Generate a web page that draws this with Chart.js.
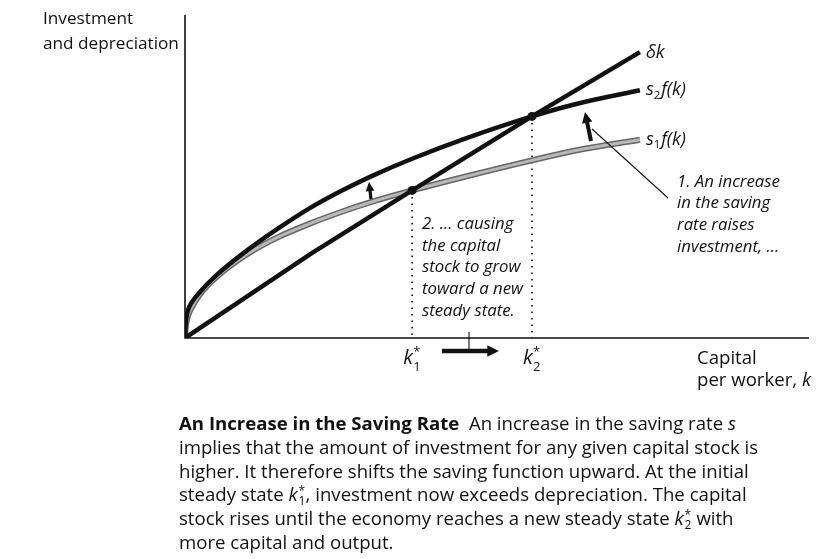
<!DOCTYPE html>
<html>
<head>
<meta charset="utf-8">
<script src="https://cdn.jsdelivr.net/npm/chart.js@4.4.1/dist/chart.umd.min.js"></script>
<style>
  body { margin: 0; background: #fff; font-family: "Open Sans", sans-serif; color: #111; }
  #wrap { position: relative; width: 829px; height: 559px; overflow: hidden; }
  canvas { position: absolute; left: 0; top: 0; }
  .cap { position: absolute; left: 179px; top: 411px; font-size: 18.6px; line-height: 23.8px; white-space: nowrap; }
  .cap b { font-weight: 700; }
  .ss { position: relative; display: inline-block; width: 8px; height: 1px; }
  .ss span { position: absolute; left: 1px; font-size: 12px; line-height: 12px; }
  .ss .sup { top: -15px; }
  .ss .sub { top: -5px; }
</style>
</head>
<body>
<div id="wrap">
  <canvas id="chart" width="829" height="559"></canvas>
  <div class="cap">
    <b>An Increase in the Saving Rate</b>&nbsp; An increase in the saving rate <i>s</i><br>
    implies that the amount of investment for any given capital stock is<br>
    higher. It therefore shifts the saving function upward. At the initial<br>
    steady state <i>k</i><span class="ss"><span class="sup">*</span><span class="sub">1</span></span>, investment now exceeds depreciation. The capital<br>
    stock rises until the economy reaches a new steady state <i>k</i><span class="ss"><span class="sup">*</span><span class="sub">2</span></span> with<br>
    more capital and output.
  </div>
</div>
<script>
// values (k = capital per worker)
const kPoints = [0, 0.01, 0.03, 0.06, 0.1, 0.25, 0.5, 1.0, 1.5, 2.0, 2.5, 3.0, 3.64, 4.5, 5.56, 6.3, 7.29];
const s1f = [0, 0.3, 0.55, 0.75, 0.92, 1.38, 1.88, 2.6, 3.13, 3.54, 3.9, 4.22, 4.57, 5.0, 5.5, 5.82, 6.14];
const s2f = [0, 0.42, 0.72, 0.92, 1.08, 1.45, 1.94, 2.72, 3.4, 4.02, 4.55, 5.02, 5.55, 6.18, 6.86, 7.26, 7.67];
const depK = [0, 2.02, 3.64, 5.56, 7.29];
const depY = [0, 2.61, 4.57, 6.86, 8.85];

// steady states k1*, k2*
const steadyK = [3.64, 5.56];
const steadyY = [4.57, 6.86];

const toXY = (xs, ys) => xs.map((x, i) => ({ x, y: ys[i] }));

// Draw axes, dotted guides, labels and arrows
const figurePlugin = {
  id: 'figure',
  beforeDatasetsDraw(chart) {
    const { ctx, chartArea: a } = chart;
    ctx.save();
    ctx.strokeStyle = '#111';
    ctx.lineWidth = 1.6;
    ctx.beginPath();
    ctx.moveTo(a.left, a.top);
    ctx.lineTo(a.left, a.bottom);
    ctx.lineTo(a.right, a.bottom);
    ctx.stroke();

    // dotted lines from steady states
    const xs = chart.scales.x, ys = chart.scales.y;
    ctx.setLineDash([1.5, 5]);
    ctx.lineWidth = 1.6;
    steadyK.forEach((k, i) => {
      const px = xs.getPixelForValue(k);
      ctx.beginPath();
      ctx.moveTo(px, ys.getPixelForValue(steadyY[i]));
      ctx.lineTo(px, a.bottom);
      ctx.stroke();
    });
    ctx.restore();
  },
  afterDatasetsDraw(chart) {
    const { ctx } = chart;
    const xs = chart.scales.x, ys = chart.scales.y;
    ctx.save();
    ctx.fillStyle = '#111';
    ctx.strokeStyle = '#111';

    // steady state dots
    steadyK.forEach((k, i) => {
      ctx.beginPath();
      ctx.arc(xs.getPixelForValue(k), ys.getPixelForValue(steadyY[i]), 4.5, 0, Math.PI * 2);
      ctx.fill();
    });

    // axis titles
    ctx.font = '17.2px "Open Sans"';
    ctx.textBaseline = 'middle';
    ctx.textAlign = 'left';
    ctx.fillText('Investment', 43, 19);
    ctx.fillText('and depreciation', 43, 44);
    ctx.font = '18.6px "Open Sans"';
    ctx.fillText('Capital', 697, 359);
    ctx.fillText('per worker, ', 697, 381);
    let w = ctx.measureText('per worker, ').width;
    ctx.font = 'italic 18.6px "Open Sans"';
    ctx.fillText('k', 697 + w, 381);

    // curve labels
    const endX = xs.getPixelForValue(depK[depK.length - 1]) + 6;
    ctx.font = 'italic 18px "Open Sans"';
    ctx.fillText('\u03B4k', endX, ys.getPixelForValue(depY[depY.length - 1]) + 1);
    const sLabel = (sub, y) => {
      ctx.font = 'italic 18px "Open Sans"';
      ctx.fillText('s', endX, y);
      let ww = ctx.measureText('s').width;
      ctx.font = '11.5px "Open Sans"';
      ctx.fillText(sub, endX + ww, y + 5);
      ww += ctx.measureText(sub).width + 1;
      ctx.font = 'italic 18px "Open Sans"';
      ctx.fillText('f(k)', endX + ww, y);
    };
    sLabel('2', ys.getPixelForValue(s2f[s2f.length - 1]));
    sLabel('1', ys.getPixelForValue(s1f[s1f.length - 1]));

    // k* tick labels
    const kLabel = (sub, px) => {
      ctx.font = 'italic 20px "Open Sans"';
      ctx.textAlign = 'left';
      ctx.fillText('k', px - 9, 358);
      ctx.font = '13px "Open Sans"';
      ctx.fillText('*', px + 1, 352);
      ctx.fillText(sub, px + 1, 367);
    };
    kLabel('1', xs.getPixelForValue(steadyK[0]));
    kLabel('2', xs.getPixelForValue(steadyK[1]));

    // annotations
    ctx.font = 'italic 16.8px "Open Sans"';
    ['1. An increase', 'in the saving', 'rate raises', 'investment, ...']
      .forEach((t, i) => ctx.fillText(t, 677, 182 + i * 21.6));
    ['2. ... causing', 'the capital', 'stock to grow', 'toward a new', 'steady state.']
      .forEach((t, i) => ctx.fillText(t, 422, 224 + i * 21.8));

    // arrows
    const arrow = (x1, y1, x2, y2, lw, head) => {
      const ang = Math.atan2(y2 - y1, x2 - x1);
      ctx.lineWidth = lw;
      ctx.beginPath();
      ctx.moveTo(x1, y1);
      ctx.lineTo(x2 - Math.cos(ang) * head * 0.8, y2 - Math.sin(ang) * head * 0.8);
      ctx.stroke();
      ctx.beginPath();
      ctx.moveTo(x2, y2);
      ctx.lineTo(x2 - head * Math.cos(ang - 0.45), y2 - head * Math.sin(ang - 0.45));
      ctx.lineTo(x2 - head * Math.cos(ang + 0.45), y2 - head * Math.sin(ang + 0.45));
      ctx.closePath();
      ctx.fill();
    };
    arrow(371, 199, 369, 182, 3.2, 10);
    arrow(591, 141, 585, 112, 4, 12);
    arrow(442, 351, 499, 351, 4.5, 13);

    // leader and tick
    ctx.lineWidth = 1.1;
    ctx.beginPath();
    ctx.moveTo(592, 129);
    ctx.lineTo(668, 198);
    ctx.moveTo(469, 332);
    ctx.lineTo(469, 349);
    ctx.stroke();
    ctx.restore();
  }
};

new Chart(document.getElementById('chart'), {
  type: 'line',
  data: {
    datasets: [
      { data: toXY(kPoints, s1f), borderColor: '#666', borderWidth: 6, pointRadius: 0, cubicInterpolationMode: 'monotone', order: 4 },
      { data: toXY(kPoints, s1f), borderColor: '#b8b8b8', borderWidth: 3, pointRadius: 0, cubicInterpolationMode: 'monotone', order: 3 },
      { data: toXY(depK, depY), borderColor: '#111', borderWidth: 4.5, pointRadius: 0, order: 2 },
      { data: toXY(kPoints, s2f), borderColor: '#111', borderWidth: 4.5, pointRadius: 0, cubicInterpolationMode: 'monotone', order: 1 }
    ]
  },
  options: {
    responsive: false,
    animation: false,
    devicePixelRatio: 1,
    layout: { padding: { left: 185, right: 20, top: 15, bottom: 221 } },
    plugins: { legend: { display: false }, tooltip: { enabled: false } },
    scales: {
      x: { type: 'linear', min: 0, max: 10, display: false },
      y: { min: 0, max: 10, display: false }
    }
  },
  plugins: [figurePlugin]
});
</script>
</body>
</html>
